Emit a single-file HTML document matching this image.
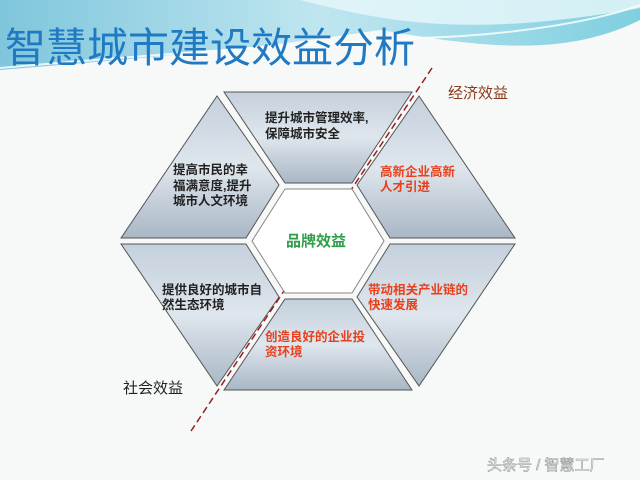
<!DOCTYPE html>
<html><head><meta charset="utf-8"><style>
body{margin:0;width:640px;height:480px;overflow:hidden;background:#f7f8f8;font-family:"Liberation Sans","Noto Sans CJK SC",sans-serif;}
</style></head><body>
<svg width="640" height="480" viewBox="0 0 640 480" xmlns="http://www.w3.org/2000/svg" style="position:absolute;left:0;top:0">
<defs>
<linearGradient id="g" x1="0" y1="0" x2="0" y2="1">
<stop offset="0" stop-color="#c4d0dc"/><stop offset="0.5" stop-color="#dfe6ed"/><stop offset="1" stop-color="#a9b7c5"/>
</linearGradient>
<linearGradient id="hd" x1="0" y1="0" x2="1" y2="0">
<stop offset="0" stop-color="#7fc6dc"/><stop offset="0.5" stop-color="#bfe6f0"/><stop offset="1" stop-color="#7fcfe0"/>
</linearGradient>
</defs>
<path d="M0 0 H640 V20 C560 60 470 45 380 30 C250 50 120 60 0 70 Z" fill="url(#hd)"/>
<path d="M300 0 C380 20 460 40 640 8 V0 Z" fill="#e9f7fa" opacity="0.8"/>
<path d="M0 68 C150 55 280 45 420 38 C520 35 600 20 640 5" stroke="#ffffff" stroke-width="2" fill="none" opacity="0.8"/>
<text x="5" y="62" font-size="41" fill="#1f7ac3" font-family="Liberation Sans,Noto Sans CJK SC,sans-serif">智慧城市建设效益分析</text>
<g fill="url(#g)" stroke="#555" stroke-width="1">
<polygon points="224,92 412,92 352,183 285,183"/>
<polygon points="419,96 515,238 390,238 357,185"/>
<polygon points="515,244 419,386 357,297 390,244"/>
<polygon points="412,390 224,390 285,299 352,299"/>
<polygon points="217,386 121,244 246,244 279,297"/>
<polygon points="121,238 217,96 279,185 246,238"/>
</g>
<line x1="432" y1="68" x2="191" y2="431" stroke="#9a1e1e" stroke-width="1.5" stroke-dasharray="7,4"/>
<polygon points="285,189 352,189 384,241 352,293 285,293 252,241" fill="#fff" stroke="#888" stroke-width="1"/>
<g font-size="12.5" font-weight="bold" fill="#222">
<text x="265" y="122">提升城市管理效率,</text><text x="265" y="138">保障城市安全</text>
<text x="173" y="174">提高市民的幸</text><text x="173" y="190">福满意度,提升</text><text x="173" y="205">城市人文环境</text>
<text x="162" y="294">提供良好的城市自</text><text x="162" y="309">然生态环境</text>
</g>
<g font-size="12.5" font-weight="bold" fill="#e8401c">
<text x="380" y="176">高新企业高新</text><text x="380" y="191">人才引进</text>
<text x="368" y="294">带动相关产业链的</text><text x="368" y="309">快速发展</text>
<text x="265" y="341">创造良好的企业投</text><text x="265" y="356">资环境</text>
</g>
<text x="286" y="246" font-size="15" font-weight="bold" fill="#2e9e48">品牌效益</text>
<text x="448" y="98" font-size="15" fill="#8b3a1a">经济效益</text>
<text x="123" y="393" font-size="15" fill="#222">社会效益</text>
<text x="487" y="470" font-size="15" fill="#fff" stroke="#999" stroke-width="0.6">头条号 / 智慧工厂</text>
</svg>
</body></html>
